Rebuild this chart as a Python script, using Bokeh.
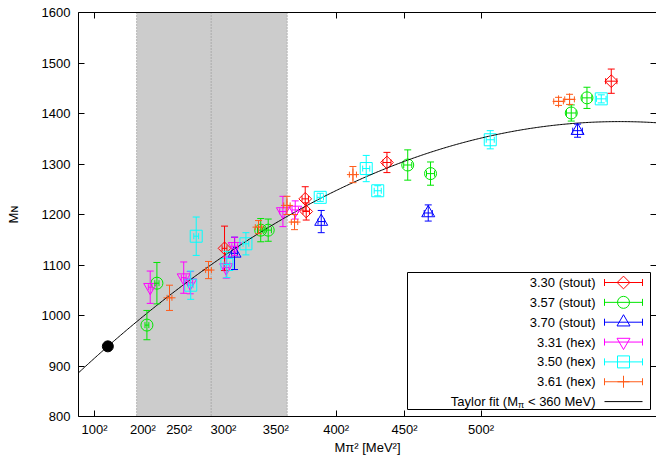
import numpy as np
from bokeh.plotting import figure
from bokeh.models import (ColumnDataSource, Whisker, TeeHead, BoxAnnotation, Span,
                          LinearAxis, FixedTicker, Label, Range1d)
from bokeh.core.properties import value
from bokeh.embed import file_html
from bokeh.resources import INLINE

FONT = "Liberation Sans"

# ---------------- data ----------------
x_ticks = [10000, 40000, 62500, 90000, 122500, 160000, 202500, 250000]
x_tick_labels = ["100²", "200²", "250²", "300²", "350²", "400²", "450²", "500²"]
x_ticks_visible = [10000, 160000, 202500, 250000]
y_ticks = [800, 900, 1000, 1100, 1200, 1300, 1400, 1500, 1600]
x_title = "Mπ² [MeV²]"
y_title = "Mɴ"

s330_x = [90670, 140780, 141400, 191520, 330810]
s330_y = [1133, 1231, 1206, 1303, 1464]
s330_ey = [44, 24, 17, 20, 24]
s330_ex = [1500, 2000, 2000, 2500, 3500]

s357_x = [42480, 48690, 113150, 117800, 204430, 218590, 305970, 315720]
s357_y = [981, 1064, 1169, 1169, 1298, 1281, 1401, 1431]
s357_ey = [29, 41, 23, 22, 30, 23, 16, 21]
s357_ex = [1200, 1300, 2000, 2000, 2500, 2500, 3000, 3000]

s370_x = [96880, 150720, 217170, 309880]
s370_y = [1123, 1186, 1203, 1366]
s370_ey = [32, 22, 16, 13]
s370_ex = [1800, 2000, 2500, 3000]

h331_x = [44530, 65330, 69370, 91720, 97000, 126930, 134570]
h331_y = [1056, 1075, 1065, 1095, 1137, 1206, 1209]
h331_ey = [32, 31, 22, 21, 18, 30, 18]
h331_ex = [1200, 1500, 1500, 1800, 1800, 2000, 2000]

h350_x = [69680, 73090, 92160, 103960, 150100, 178660, 185800, 255670, 324600]
h350_y = [1060, 1157, 1101, 1142, 1234, 1291, 1247, 1348, 1429]
h350_ey = [28, 38, 26, 22, 8, 26, 10, 18, 8]
h350_ex = [1500, 1500, 1800, 1800, 2000, 2200, 2200, 2500, 3000]

h361_x = [56510, 80730, 111780, 129420, 134140, 170400, 298080, 304910]
h361_y = [1035, 1090, 1175, 1218, 1185, 1279, 1424, 1428]
h361_ey = [25, 17, 13, 18, 15, 16, 8, 10]
h361_ex = [1500, 1800, 2000, 2000, 2000, 2200, 3000, 3000]

phys_x = [18225]
phys_y = [938.9]

# Taylor fit coefficients: M_N = a + b*M^2 + c*M^4
fit_a, fit_b, fit_c = 886.5, 2.961e-3, -4.406e-9
fit_range_lo, fit_range_mid, fit_range_hi = 36100, 82369, 129600

legend_labels = ["3.30 (stout)", "3.57 (stout)", "3.70 (stout)",
                 "3.31 (hex)", "3.50 (hex)", "3.61 (hex)"]

series = [
    (s330_x, s330_y, s330_ey, s330_ex, "#ff0000", "square", 9, np.pi / 4),
    (s357_x, s357_y, s357_ey, s357_ex, "#00e600", "circle", 12, 0.0),
    (s370_x, s370_y, s370_ey, s370_ex, "#0000ff", "triangle", 13, 0.0),
    (h331_x, h331_y, h331_ey, h331_ex, "#ff00ff", "inverted_triangle", 13, 0.0),
    (h350_x, h350_y, h350_ey, h350_ex, "#00ffff", "square", 12, 0.0),
    (h361_x, h361_y, h361_ey, h361_ex, "#ff5c1a", "cross", 12, 0.0),
]

# ---------------- layout ----------------
W, H = 656, 458
FL, FR, FT, FB = 78, 656, 12, 416
X0, X1 = 0, 358900
Y0, Y1 = 800, 1600


def dx(px):
    return X0 + (px - FL) * (X1 - X0) / (FR - FL)


def dy(py):
    return Y1 - (py - FT) * (Y1 - Y0) / (FB - FT)


p = figure(width=W, height=H, output_backend="svg", toolbar_location=None,
           x_range=Range1d(X0, X1), y_range=Range1d(Y0, Y1),
           min_border_left=FL, min_border_right=W - FR, min_border_top=FT,
           min_border_bottom=H - FB, x_axis_location=None, y_axis_location=None)
p.outline_line_color = None
p.background_fill_color = "white"
p.border_fill_color = "white"
p.grid.visible = False

# axes
bottom = LinearAxis(ticker=FixedTicker(ticks=x_ticks, minor_ticks=x_ticks_visible),
                    major_label_overrides={t: l for t, l in zip(x_ticks, x_tick_labels)},
                    major_tick_in=0, major_tick_out=0, minor_tick_in=6, minor_tick_out=0,
                    major_label_standoff=5, axis_line_color="black",
                    minor_tick_line_color="black",
                    major_label_text_font=FONT, major_label_text_font_size="13px",
                    major_label_text_color="black",
                    axis_label=x_title, axis_label_standoff=0,
                    axis_label_text_font=FONT, axis_label_text_font_size="13px",
                    axis_label_text_font_style="normal", axis_label_text_color="black")
p.add_layout(bottom, "below")
left = LinearAxis(ticker=FixedTicker(ticks=y_ticks, minor_ticks=[]),
                  major_tick_in=6, major_tick_out=0, minor_tick_in=0, minor_tick_out=0,
                  major_label_standoff=8, axis_line_color="black",
                  major_tick_line_color="black",
                  major_label_text_font=FONT, major_label_text_font_size="13px",
                  major_label_text_color="black",
                  axis_label=y_title, axis_label_standoff=18,
                  axis_label_text_font=FONT, axis_label_text_font_size="13px",
                  axis_label_text_font_style="normal", axis_label_text_color="black")
p.add_layout(left, "left")
top = LinearAxis(ticker=FixedTicker(ticks=[], minor_ticks=x_ticks_visible),
                 major_tick_in=0, major_tick_out=0, minor_tick_in=6, minor_tick_out=0,
                 major_label_standoff=0, axis_line_color="black",
                 minor_tick_line_color="black")
p.add_layout(top, "above")
right = LinearAxis(ticker=FixedTicker(ticks=[], minor_ticks=y_ticks),
                   major_tick_in=0, major_tick_out=0, minor_tick_in=6, minor_tick_out=0,
                   major_label_standoff=0, axis_line_color=None,
                   minor_tick_line_color="black")
p.add_layout(right, "right")

# shaded fit range
p.add_layout(BoxAnnotation(left=fit_range_lo, right=fit_range_hi, fill_color="#cccccc",
                           fill_alpha=1.0, line_color=None, level="underlay"))
for loc in (fit_range_lo, fit_range_mid, fit_range_hi):
    p.add_layout(Span(location=loc, dimension="height", line_color="#888888",
                      line_dash="1 2", line_width=1, level="underlay"))

# data points with error bars
for xs, ys, eys, exs, col, mk, sz, ang in series:
    src = ColumnDataSource(dict(
        x=xs, y=ys,
        yl=[a - b for a, b in zip(ys, eys)], yu=[a + b for a, b in zip(ys, eys)],
        xl=[a - b for a, b in zip(xs, exs)], xu=[a + b for a, b in zip(xs, exs)]))
    p.add_layout(Whisker(source=src, base="x", lower="yl", upper="yu", dimension="height",
                         line_color=col, line_width=1, level="glyph",
                         lower_head=TeeHead(size=7, line_color=col, line_width=1),
                         upper_head=TeeHead(size=7, line_color=col, line_width=1)))
    p.add_layout(Whisker(source=src, base="y", lower="xl", upper="xu", dimension="width",
                         line_color=col, line_width=1, level="glyph",
                         lower_head=TeeHead(size=6, line_color=col, line_width=1),
                         upper_head=TeeHead(size=6, line_color=col, line_width=1)))
    p.scatter("x", "y", source=src, marker=mk, size=sz, angle=ang,
              line_color=col, fill_color=None, line_width=1)

# fit curve
fit_x = np.linspace(X0, X1, 400)
fit_y = fit_a + fit_b * fit_x + fit_c * fit_x ** 2
p.line(fit_x, fit_y, line_color="black", line_width=1)

# physical point
p.scatter(phys_x, phys_y, marker="circle", size=11, color="black")

# ---------------- legend (gnuplot style) ----------------
p.quad(left=[dx(407)], right=[dx(650)], top=[dy(272)], bottom=[dy(409)],
       fill_color="white", line_color="black", line_width=1)
rows = [282 + 19.85 * i for i in range(7)]
p.text(x=[dx(595)] * 6, y=[dy(r) for r in rows[:6]], text=legend_labels,
       text_align="right", text_baseline="middle", text_font=value(FONT),
       text_font_size="13px", text_color="black")
for i, (xs, ys, eys, exs, col, mk, sz, ang) in enumerate(series):
    r = rows[i]
    p.segment(x0=[dx(604)], x1=[dx(642)], y0=[dy(r)], y1=[dy(r)], line_color=col, line_width=1)
    p.segment(x0=[dx(604), dx(642)], x1=[dx(604), dx(642)],
              y0=[dy(r - 3.5)] * 2, y1=[dy(r + 3.5)] * 2, line_color=col, line_width=1)
    p.scatter([dx(623)], [dy(r)], marker=mk, size=sz, angle=ang,
              line_color=col, fill_color=None, line_width=1)
r = rows[6]
p.segment(x0=[dx(604)], x1=[dx(642)], y0=[dy(r)], y1=[dy(r)], line_color="black", line_width=1)


def lab(px, py, txt, size="13px", align="left", baseline="middle", angle=0.0):
    p.add_layout(Label(x=dx(px), y=dy(py), text=txt, text_font=FONT, text_font_size=size,
                       text_align=align, text_baseline=baseline, angle=angle,
                       text_color="black"))


lab(595, r, "< 360 MeV)", align="right")
lab(517.5, r + 3, "π", size="9px")
lab(517.5, r, "Taylor fit (M", align="right")

open("out.html", "w").write(file_html(p, INLINE))
